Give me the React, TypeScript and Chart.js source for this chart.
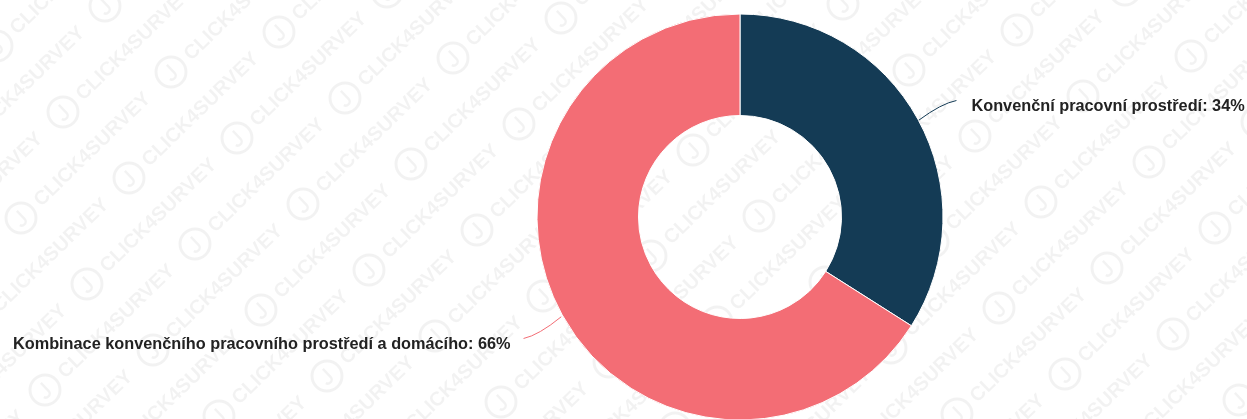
import React, { useEffect, useRef } from "react";
import { Chart, registerables } from "chart.js";

Chart.register(...registerables);

const categories = [
  "Konvenční pracovní prostředí",
  "Kombinace konvenčního pracovního prostředí a domácího",
];
const values = [34, 66];
const colors = ["#143b55", "#f36d75"];
const watermarkText = "CLICK4SURVEY";

const watermarkPlugin = {
  id: "watermark",
  beforeDraw(chart: any) {
    const ctx = chart.ctx as CanvasRenderingContext2D;
    const W = chart.width;
    const H = chart.height;
    const a = [108, -40];
    const d = [150, -146];
    const ang = Math.atan2(d[1], d[0]);
    ctx.save();
    ctx.fillStyle = "#ffffff";
    ctx.fillRect(0, 0, W, H);
    const col = "rgba(0,0,0,0.05)";
    ctx.strokeStyle = col;
    ctx.fillStyle = col;
    ctx.font = "bold 20px 'Liberation Sans', Arial, sans-serif";
    ctx.textBaseline = "middle";
    ctx.textAlign = "left";
    for (let i = -30; i <= 40; i++) {
      for (let j = -20; j <= 20; j++) {
        const x = 63 + i * a[0] + j * d[0];
        const y = 112 + i * a[1] + j * d[1];
        if (x < -260 || x > W + 40 || y < -40 || y > H + 260) continue;
        ctx.save();
        ctx.translate(x, y);
        ctx.rotate(ang);
        ctx.lineWidth = 3;
        ctx.beginPath();
        ctx.arc(0, 0, 15, 0, Math.PI * 2);
        ctx.stroke();
        ctx.lineWidth = 2.5;
        ctx.beginPath();
        ctx.moveTo(2, -8);
        ctx.lineTo(2, 3);
        ctx.arc(-2, 3, 4, 0, Math.PI * 0.9);
        ctx.stroke();
        ctx.fillText(watermarkText, 22, 1);
        ctx.restore();
      }
    }
    ctx.restore();
  },
};

const labelPlugin = {
  id: "sliceLabels",
  afterDraw(chart: any) {
    const ctx = chart.ctx as CanvasRenderingContext2D;
    const meta = chart.getDatasetMeta(0);
    ctx.save();
    ctx.font = "bold 16.3px 'Liberation Sans', Arial, sans-serif";
    ctx.textBaseline = "alphabetic";
    meta.data.forEach((arc: any, i: number) => {
      const p = arc.getProps(["x", "y", "startAngle", "endAngle", "outerRadius"], true);
      const mid = (p.startAngle + p.endAngle) / 2;
      const cos = Math.cos(mid);
      const sin = Math.sin(mid);
      const sx = p.x + cos * (p.outerRadius + 1);
      const sy = p.y + sin * (p.outerRadius + 1) + 1.5;
      const ex = p.x + cos * (p.outerRadius + 44);
      const ey = p.y + sin * (p.outerRadius + 44) + 2.5;
      const right = cos >= 0;
      const cx = sx + (ex - sx) * 0.6;
      const cy = ey + (sy - ey) * 0.15;
      ctx.strokeStyle = colors[i];
      ctx.lineWidth = 1;
      ctx.beginPath();
      ctx.moveTo(sx, sy);
      ctx.quadraticCurveTo(cx, cy, ex, ey);
      ctx.stroke();
      ctx.fillStyle = "#222222";
      ctx.textAlign = right ? "left" : "right";
      ctx.fillText(`${categories[i]}: ${values[i]}%`, ex + (right ? 15 : -13), ey + 10.7);
    });
    ctx.restore();
  },
};

export default function App() {
  const ref = useRef<HTMLCanvasElement | null>(null);
  useEffect(() => {
    if (!ref.current) return;
    const chart = new Chart(ref.current, {
      type: "doughnut",
      data: {
        labels: categories,
        datasets: [
          {
            data: values,
            backgroundColor: colors,
            borderColor: "#ffffff",
            borderWidth: 1,
            radius: 203,
            cutout: "50%",
          } as any,
        ],
      },
      options: {
        animation: false,
        responsive: true,
        maintainAspectRatio: false,
        events: [],
        layout: { padding: { left: 233, right: 0, top: 0, bottom: 0 } },
        plugins: {
          legend: { display: false },
          tooltip: { enabled: false },
        },
      },
      plugins: [watermarkPlugin, labelPlugin],
    });
    return () => chart.destroy();
  }, []);
  return (
    <div style={{ position: "fixed", left: 0, top: 0, width: 1247, height: 434 }}>
      <canvas ref={ref} />
    </div>
  );
}
